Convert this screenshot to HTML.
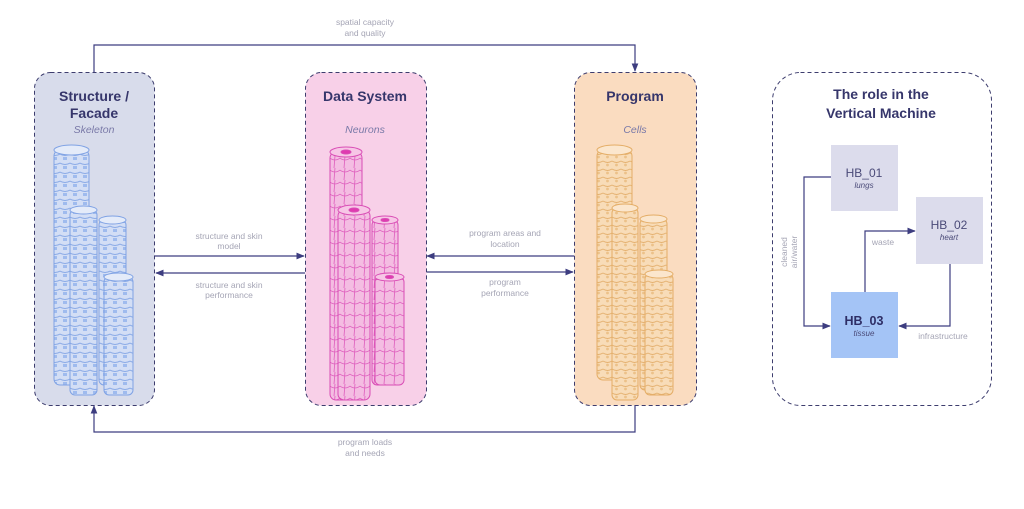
<!DOCTYPE html>
<html><head><meta charset="utf-8"><style>
html,body{margin:0;padding:0;background:#fff;}
body{width:1024px;height:504px;overflow:hidden;}
text{font-family:"Liberation Sans",sans-serif;}
</style></head><body>
<svg width="1024" height="504" viewBox="0 0 1024 504" xmlns="http://www.w3.org/2000/svg">
<defs>
<marker id="ar" viewBox="0 0 10 10" refX="9" refY="5" markerWidth="7" markerHeight="7" orient="auto-start-reverse"><path d="M0,1 L10,5 L0,9 z" fill="#3d3d80"/></marker>
<pattern id="pb" width="10" height="9" patternUnits="userSpaceOnUse"><rect width="10" height="9" fill="#d3def5"/><path d="M0,1 Q5,4 10,1" stroke="#8aaae6" fill="none" stroke-width="1"/><rect x="3" y="4" width="4" height="3" fill="#9fbbee"/></pattern>
<pattern id="pp" width="10" height="12" patternUnits="userSpaceOnUse"><rect width="10" height="12" fill="#f4bde2"/><path d="M0,2 Q5,6 10,2 M5,0 L4,12" stroke="#de5cbd" fill="none" stroke-width="0.8"/></pattern>
<pattern id="po" width="9" height="8" patternUnits="userSpaceOnUse"><rect width="9" height="8" fill="#f8dcb8"/><path d="M0,1 Q4.5,4 9,1" stroke="#e4b06e" fill="none" stroke-width="0.9"/><circle cx="4.5" cy="5" r="1.4" fill="#ecc189"/></pattern>
</defs>

<rect x="34.5" y="72.5" width="120" height="333" rx="16" fill="#d8dceb" stroke="#3d3d6e" stroke-dasharray="4,3"/>
<rect x="305.5" y="72.5" width="121" height="333" rx="16" fill="#f8d0e8" stroke="#3d3d6e" stroke-dasharray="4,3"/>
<rect x="574.5" y="72.5" width="122" height="333" rx="16" fill="#fadcc0" stroke="#3d3d6e" stroke-dasharray="4,3"/>
<rect x="772.5" y="72.5" width="219" height="333" rx="28" fill="#fff" stroke="#3d3d6e" stroke-dasharray="4,3"/>

<g font-weight="bold" font-size="14" fill="#36366b" text-anchor="middle">
<text x="94" y="101">Structure /</text><text x="94" y="118">Facade</text>
<text x="365" y="101">Data System</text>
<text x="635" y="101">Program</text>
<text x="881" y="99">The role in the</text><text x="881" y="118">Vertical Machine</text>
</g>
<g font-style="italic" font-size="10.5" fill="#7a7aa8" text-anchor="middle">
<text x="94" y="133">Skeleton</text><text x="365" y="133">Neurons</text><text x="635" y="133">Cells</text>
</g>

<g stroke="#7fa2e4" stroke-width="1">
<rect x="54" y="150" width="35" height="235" rx="6" fill="url(#pb)"/><ellipse cx="71.5" cy="150" rx="17.5" ry="5" fill="#e4ebf9"/>
<rect x="70" y="210" width="27" height="185" rx="5" fill="url(#pb)"/><ellipse cx="83.5" cy="210" rx="13.5" ry="4" fill="#e4ebf9"/>
<rect x="99" y="220" width="27" height="165" rx="5" fill="url(#pb)"/><ellipse cx="112.5" cy="220" rx="13.5" ry="4" fill="#e4ebf9"/>
<rect x="104" y="277" width="29" height="118" rx="5" fill="url(#pb)"/><ellipse cx="118.5" cy="277" rx="14.5" ry="4" fill="#e4ebf9"/>
</g>
<g stroke="#d94db5" stroke-width="1">
<rect x="330" y="152" width="32" height="248" rx="6" fill="url(#pp)"/><ellipse cx="346" cy="152" rx="16" ry="5" fill="#f7c6e6"/><ellipse cx="346" cy="152" rx="5" ry="2" fill="#e03ab0"/>
<rect x="338" y="210" width="32" height="190" rx="6" fill="url(#pp)"/><ellipse cx="354" cy="210" rx="16" ry="5" fill="#f7c6e6"/><ellipse cx="354" cy="210" rx="5" ry="2" fill="#e03ab0"/>
<rect x="372" y="220" width="26" height="165" rx="5" fill="url(#pp)"/><ellipse cx="385" cy="220" rx="13" ry="4" fill="#f7c6e6"/><ellipse cx="385" cy="220" rx="4" ry="1.5" fill="#e03ab0"/>
<rect x="375" y="277" width="29" height="108" rx="5" fill="url(#pp)"/><ellipse cx="389.5" cy="277" rx="14.5" ry="4" fill="#f7c6e6"/><ellipse cx="389.5" cy="277" rx="4" ry="1.5" fill="#e03ab0"/>
</g>
<g stroke="#e4ad66" stroke-width="1">
<rect x="597" y="150" width="35" height="230" rx="6" fill="url(#po)"/><ellipse cx="614.5" cy="150" rx="17.5" ry="5" fill="#fbe6cd"/>
<rect x="612" y="208" width="26" height="192" rx="5" fill="url(#po)"/><ellipse cx="625" cy="208" rx="13" ry="4" fill="#fbe6cd"/>
<rect x="640" y="219" width="27" height="171" rx="5" fill="url(#po)"/><ellipse cx="653.5" cy="219" rx="13.5" ry="4" fill="#fbe6cd"/>
<rect x="645" y="274" width="28" height="121" rx="5" fill="url(#po)"/><ellipse cx="659" cy="274" rx="14" ry="4" fill="#fbe6cd"/>
</g>

<g stroke="#3d3d80" stroke-width="1.2" fill="none">
<path d="M94,72 V45 H635 V71" marker-end="url(#ar)"/>
<path d="M635,405 V432 H94 V406" marker-end="url(#ar)"/>
<path d="M155,256 H304" marker-end="url(#ar)"/>
<path d="M305,273 H156" marker-end="url(#ar)"/>
<path d="M574,256 H427" marker-end="url(#ar)"/>
<path d="M427,272 H573" marker-end="url(#ar)"/>
<path d="M831,177 H804 V326 H830" marker-end="url(#ar)"/>
<path d="M865,292 V231 H915" marker-end="url(#ar)"/>
<path d="M950,264 V326 H899" marker-end="url(#ar)"/>
</g>

<g font-size="8.5" fill="#a5a5b5" text-anchor="middle">
<text x="365" y="25">spatial capacity</text><text x="365" y="36">and quality</text>
<text x="365" y="445">program loads</text><text x="365" y="456">and needs</text>
<text x="229" y="239">structure and skin</text><text x="229" y="249">model</text>
<text x="229" y="288">structure and skin</text><text x="229" y="298">performance</text>
<text x="505" y="236">program areas and</text><text x="505" y="247">location</text>
<text x="505" y="285">program</text><text x="505" y="296">performance</text>
<text x="883" y="245">waste</text>
<text x="943" y="339">infrastructure</text>
<text transform="translate(787,252) rotate(-90)">cleaned</text>
<text transform="translate(797,252) rotate(-90)">air/water</text>
</g>

<rect x="831" y="145" width="67" height="66" fill="#dcdcec"/>
<rect x="916" y="197" width="67" height="67" fill="#dcdcec"/>
<rect x="831" y="292" width="67" height="66" fill="#a4c4f6"/>
<g text-anchor="middle" fill="#4a4a78">
<text x="864" y="177" font-size="12">HB_01</text><text x="864" y="188" font-size="8" font-style="italic">lungs</text>
<text x="949" y="229" font-size="12">HB_02</text><text x="949" y="240" font-size="8" font-style="italic">heart</text>
<text x="864" y="325" font-size="12.5" font-weight="bold" fill="#2e2e66">HB_03</text><text x="864" y="336" font-size="8" font-style="italic">tissue</text>
</g>
</svg>
</body></html>
